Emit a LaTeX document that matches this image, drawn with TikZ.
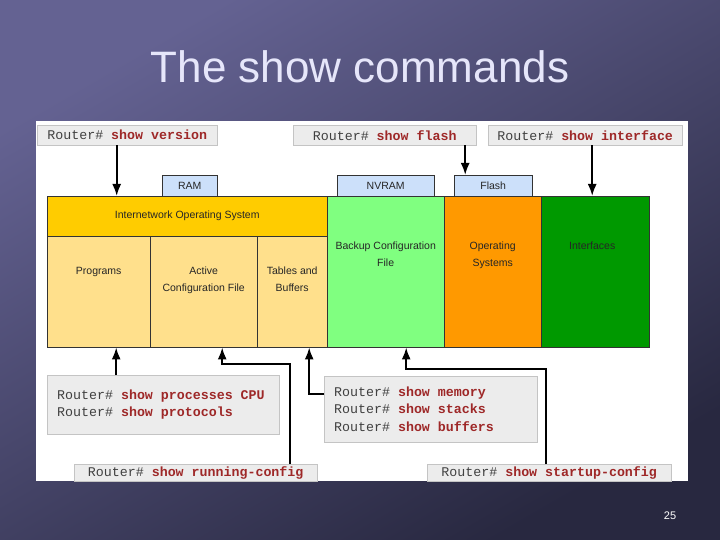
\documentclass[tikz,border=0pt]{standalone}
\usepackage{fontspec}
\setmainfont{Liberation Sans}
\setmonofont{Liberation Mono}
\usetikzlibrary{arrows.meta,calc,positioning}
\definecolor{SlideLight}{RGB}{100,98,146}
\definecolor{SlideDark}{RGB}{40,40,64}
\definecolor{TitleLilac}{RGB}{230,230,250}
\definecolor{CmdGray}{RGB}{236,236,236}
\definecolor{CmdEdge}{RGB}{196,196,196}
\definecolor{CmdRed}{RGB}{158,40,40}
\definecolor{MemBlue}{RGB}{204,224,250}
\definecolor{IosGold}{RGB}{255,204,0}
\definecolor{IosPale}{RGB}{255,224,140}
\definecolor{NvGreen}{RGB}{128,255,128}
\definecolor{FlashOrange}{RGB}{255,153,0}
\definecolor{IfGreen}{RGB}{0,153,0}
\newcommand{\cmdfont}{\ttfamily\fontsize{13.3}{17.5}\selectfont}
\newcommand{\gap}{\hspace{7.98pt}}
\newcommand{\rtr}{Router\#\gap}
\newcommand{\shw}[1]{\textcolor{CmdRed}{\textbf{#1}}}

\begin{document}
\begin{tikzpicture}[x=1pt, y=-1pt,
  every node/.style={font=\fontsize{10.5}{16.5}\selectfont, text=black!85},
  cmd/.style={draw=CmdEdge, fill=CmdGray, anchor=north west, inner sep=0pt,
    font=\cmdfont, text=black!75},
  mem/.style={draw=black!80, fill=MemBlue, anchor=north west, inner sep=0pt, minimum height=21pt},
  cell/.style={draw=black!80, anchor=north west, inner sep=0pt},
  lbl/.style={inner sep=0pt, align=center},
  arr/.style={line width=2pt, black, -{Latex[length=12pt,width=9pt]}}]
% slide background
\shade[top color=SlideLight, bottom color=SlideDark, shading angle=30] (0,0) rectangle (720,540);
\useasboundingbox (0,0) rectangle (720,540);
\node[anchor=base, font=\fontsize{44}{50}\selectfont, text=TitleLilac] (title) at (360,83) {The show commands};
\fill[white] (36,121) rectangle (688,481);

% command boxes
\node[cmd, minimum width=180pt, minimum height=20pt] (version) at (37,125) {\rtr\shw{show\gap version}};
\node[cmd, minimum width=183pt, minimum height=20pt] (flashcmd) at (293,125) {\rtr\shw{show\gap flash}};
\node[cmd, minimum width=194pt, minimum height=20pt] (intcmd) at (488,125) {\rtr\shw{show\gap interface}};
\node[cmd, text width=212pt, inner xsep=10pt, align=left, minimum height=59pt] (procs) at (47,375)
  {\rtr\shw{show\gap processes\gap CPU}\\\rtr\shw{show\gap protocols}};
\node[cmd, text width=193pt, inner xsep=10pt, align=left, minimum height=66pt] (memory) at (324,376)
  {\rtr\shw{show\gap memory}\\\rtr\shw{show\gap stacks}\\\rtr\shw{show\gap buffers}};
\node[cmd, minimum width=243pt, minimum height=17pt] (running) at (74,464) {\rtr\shw{show\gap running-config}};
\node[cmd, minimum width=244pt, minimum height=17pt] (startup) at (427,464) {\rtr\shw{show\gap startup-config}};

% memory labels
\node[mem, minimum width=55pt] (ram) at (162,175) {RAM};
\node[mem, minimum width=97pt] (nvram) at (337,175) {NVRAM};
\node[mem, minimum width=78pt] (flash) at (454,175) {Flash};

% main block
\node[cell, fill=IosGold, minimum width=280pt, minimum height=40pt] (ios) at (47,196) {Internetwork Operating System};
\node[cell, fill=IosPale, minimum width=103pt, minimum height=111pt] (programs) at (47,236) {};
\node[cell, fill=IosPale, minimum width=107pt, minimum height=111pt] (active) at (150,236) {};
\node[cell, fill=IosPale, minimum width=70pt, minimum height=111pt] (tables) at (257,236) {};
\node[cell, fill=NvGreen, minimum width=117pt, minimum height=151pt] (backup) at (327,196) {};
\node[cell, fill=FlashOrange, minimum width=97pt, minimum height=151pt] (opsys) at (444,196) {};
\node[cell, fill=IfGreen, minimum width=108pt, minimum height=151pt] (ifaces) at (541,196) {};
\node[lbl, below=31pt of programs.north] {Programs};
\node[lbl, below=31pt of active.north] {Active\\Configuration File};
\node[lbl, below=31pt of tables.north] {Tables and\\Buffers};
\node[lbl, below=46pt of backup.north] {Backup Configuration\\File};
\node[lbl, below=46pt of opsys.north] {Operating\\Systems};
\node[lbl, below=46pt of ifaces.north, xshift=-3pt] {Interfaces};

% connectors
\coordinate (verA) at ([xshift=-10.5pt]version.south);
\coordinate (flaA) at ([xshift=80.5pt]flashcmd.south);
\coordinate (intA) at ([xshift=7pt]intcmd.south);
\draw[arr] (verA) -- (verA |- ios.north);
\draw[arr] (flaA) -- (flaA |- flash.north);
\draw[arr] (intA) -- (intA |- ifaces.north);
\coordinate (proA) at ([xshift=-47pt]procs.north);
\draw[arr] (proA) -- (proA |- programs.south);
\coordinate (runA) at ([xshift=94.5pt]running.north);
\coordinate (runB) at ([xshift=18.5pt]active.south);
\draw[arr] (runA) |- ([yshift=-17pt]runB) -- (runB);
\coordinate (memA) at ([yshift=15pt]memory.west);
\coordinate (memB) at ([xshift=17pt]tables.south);
\draw[arr] (memA) -| (memB);
\coordinate (stA) at ([xshift=-3pt]startup.north);
\coordinate (stB) at ([xshift=20.5pt]backup.south);
\draw[arr] (stA) |- ([yshift=-22pt]stB) -- (stB);

\node[text=white, font=\fontsize{11}{13}\selectfont] (pageno) at (670,516) {25};
\end{tikzpicture}
\end{document}
